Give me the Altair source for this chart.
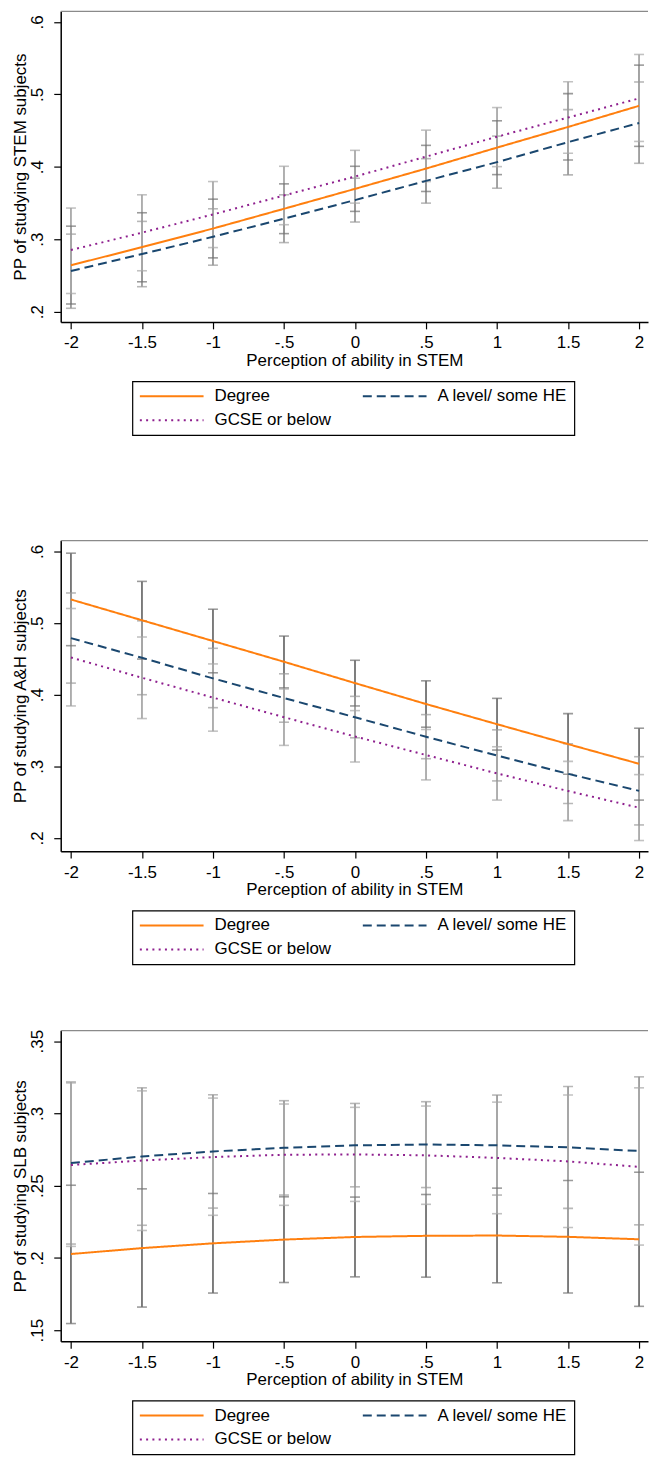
import altair as alt
import pandas as pd

# ---------------- data ----------------
x_vals = [-2, -1.5, -1, -0.5, 0, 0.5, 1, 1.5, 2]
groups = ["Degree", "A level/ some HE", "GCSE or below"]
x_ticks = [-2, -1.5, -1, -0.5, 0, 0.5, 1, 1.5, 2]

# Panel 1: STEM
stem_deg_mid = [0.264, 0.289, 0.3147, 0.342, 0.3695, 0.3975, 0.4265, 0.455, 0.4842]
stem_deg_lo = [0.2105, 0.2412, 0.2742, 0.3077, 0.3384, 0.3659, 0.3892, 0.4094, 0.4282]
stem_deg_hi = [0.318, 0.3365, 0.3553, 0.3764, 0.4007, 0.4296, 0.4635, 0.501, 0.5404]
stem_alv_mid = [0.256, 0.2795, 0.3033, 0.3283, 0.354, 0.3805, 0.4064, 0.434, 0.4605]
stem_alv_lo = [0.2046, 0.2344, 0.2641, 0.2953, 0.3237, 0.3498, 0.3704, 0.3888, 0.4048]
stem_alv_hi = [0.307, 0.3246, 0.342, 0.3613, 0.3842, 0.4112, 0.4424, 0.479, 0.5171]
stem_gcse_mid = [0.285, 0.309, 0.3342, 0.3604, 0.3865, 0.414, 0.4415, 0.468, 0.4945]
stem_gcse_lo = [0.225, 0.2564, 0.2884, 0.32, 0.3498, 0.3796, 0.4002, 0.4186, 0.435]
stem_gcse_hi = [0.343, 0.3613, 0.3796, 0.4007, 0.4227, 0.4506, 0.4818, 0.5175, 0.5551]

# Panel 2: A&H
ah_deg_mid = [0.533, 0.504, 0.475, 0.446, 0.4162, 0.387, 0.3588, 0.331, 0.3035]
ah_deg_lo = [0.4685, 0.4498, 0.4306, 0.4095, 0.3843, 0.3546, 0.3227, 0.2889, 0.2528]
ah_deg_hi = [0.5977, 0.5583, 0.5194, 0.4819, 0.4481, 0.4194, 0.3949, 0.3736, 0.3532]
ah_alv_mid = [0.479, 0.4516, 0.4228, 0.3954, 0.3685, 0.3413, 0.315, 0.2895, 0.2657]
ah_alv_lo = [0.4162, 0.4, 0.3819, 0.3616, 0.3398, 0.3106, 0.2796, 0.2481, 0.2181]
ah_alv_hi = [0.5421, 0.5032, 0.4648, 0.4292, 0.3977, 0.3722, 0.3509, 0.3315, 0.3134]
ah_gcse_mid = [0.452, 0.4237, 0.396, 0.3686, 0.3416, 0.3158, 0.29, 0.2655, 0.2422]
ah_gcse_lo = [0.3843, 0.3667, 0.3491, 0.3292, 0.306, 0.281, 0.2528, 0.2241, 0.1963]
ah_gcse_hi = [0.5204, 0.4806, 0.443, 0.408, 0.3778, 0.3514, 0.3273, 0.3069, 0.2884]

# Panel 3: SLB
slb_deg_mid = [0.2027, 0.2068, 0.2101, 0.2127, 0.2145, 0.2153, 0.2155, 0.2146, 0.2129]
slb_deg_lo = [0.1546, 0.166, 0.1757, 0.183, 0.1869, 0.1867, 0.1828, 0.1757, 0.1665]
slb_deg_hi = [0.2503, 0.2478, 0.2446, 0.2423, 0.2421, 0.2439, 0.2483, 0.2536, 0.2593]
slb_alv_mid = [0.2657, 0.2702, 0.2737, 0.2762, 0.2779, 0.2785, 0.2779, 0.2765, 0.274]
slb_alv_lo = [0.2096, 0.2226, 0.2345, 0.2435, 0.2492, 0.2487, 0.2435, 0.2343, 0.2229]
slb_alv_hi = [0.3218, 0.3177, 0.3129, 0.3088, 0.3069, 0.3081, 0.3127, 0.3186, 0.3253]
slb_gcse_mid = [0.2643, 0.2674, 0.2698, 0.2714, 0.2716, 0.271, 0.2692, 0.2668, 0.263]
slb_gcse_lo = [0.208, 0.219, 0.2295, 0.2364, 0.2391, 0.2371, 0.2306, 0.2211, 0.2089]
slb_gcse_hi = [0.3211, 0.3156, 0.3106, 0.3065, 0.3042, 0.3051, 0.3078, 0.3127, 0.3177]

y_ticks_12 = [0.2, 0.3, 0.4, 0.5, 0.6]
y_ticks_3 = [0.15, 0.2, 0.25, 0.3, 0.35]

# ---------------- style ----------------
FONT = "Liberation Sans"
W = 590
H = 312
line_colors = ["#ff7f0e", "#1a476f", "#8e1f8e"]
bar_grays = ["#707070", "#9a9a9a", "#a8a8a8"]
dashes = [[1, 0], [9, 5], [2, 4.3]]
X_DOMAIN = [-2.072, 2.063]
LBL = "replace(replace(datum.label, '0.', '.'), '\u2212', '-')"


def long_df(series):
    rows = []
    for g, (mid, lo, hi) in zip(groups, series):
        for x, m, l, h in zip(x_vals, mid, lo, hi):
            rows.append({"x": x, "group": g, "mid": m, "lo": l, "hi": h})
    return pd.DataFrame(rows)


def panel(series, y_domain, y_ticks, y_title):
    df = long_df(series)
    base = alt.Chart(df)
    xenc = alt.X(
        "x:Q",
        scale=alt.Scale(domain=X_DOMAIN, nice=False, zero=False),
        axis=alt.Axis(values=x_ticks, title="Perception of ability in STEM",
                      format="~g", labelExpr=LBL),
    )
    yscale = alt.Scale(domain=y_domain, nice=False, zero=False)
    yaxis = alt.Axis(values=y_ticks, title=y_title, format="~g", labelExpr=LBL)
    gray_scale = alt.Scale(domain=groups, range=bar_grays)

    bars = base.mark_rule(strokeWidth=1.8).encode(
        x=xenc,
        y=alt.Y("lo:Q", scale=yscale, axis=yaxis),
        y2="hi:Q",
        stroke=alt.Stroke("group:N", scale=gray_scale, legend=None),
    )
    cap_lo = base.mark_tick(orient="horizontal", size=10, thickness=1.6).encode(
        x=xenc, y=alt.Y("lo:Q", scale=yscale, axis=yaxis),
        fill=alt.Fill("group:N", scale=gray_scale, legend=None),
    )
    cap_hi = base.mark_tick(orient="horizontal", size=10, thickness=1.6).encode(
        x=xenc, y=alt.Y("hi:Q", scale=yscale, axis=yaxis),
        fill=alt.Fill("group:N", scale=gray_scale, legend=None),
    )
    lines = base.mark_line(strokeWidth=2).encode(
        x=xenc,
        y=alt.Y("mid:Q", scale=yscale, axis=yaxis),
        color=alt.Color("group:N", scale=alt.Scale(domain=groups, range=line_colors),
                        legend=alt.Legend(title=None)),
        strokeDash=alt.StrokeDash("group:N", scale=alt.Scale(domain=groups, range=dashes),
                                  legend=alt.Legend(title=None)),
    )
    frame_top = alt.Chart(pd.DataFrame({"k": [0]})).mark_rule(
        color="#8a8a8a", strokeWidth=1.2
    ).encode(x=alt.value(0), x2=alt.value(W), y=alt.value(0))

    return alt.layer(bars, cap_lo, cap_hi, lines, frame_top).properties(width=W, height=H)


p1 = panel(
    [(stem_deg_mid, stem_deg_lo, stem_deg_hi),
     (stem_alv_mid, stem_alv_lo, stem_alv_hi),
     (stem_gcse_mid, stem_gcse_lo, stem_gcse_hi)],
    [0.1858, 0.6147], y_ticks_12, "PP of studying STEM subjects")
p2 = panel(
    [(ah_deg_mid, ah_deg_lo, ah_deg_hi),
     (ah_alv_mid, ah_alv_lo, ah_alv_hi),
     (ah_gcse_mid, ah_gcse_lo, ah_gcse_hi)],
    [0.1815, 0.6153], y_ticks_12, "PP of studying A&H subjects")
p3 = panel(
    [(slb_deg_mid, slb_deg_lo, slb_deg_hi),
     (slb_alv_mid, slb_alv_lo, slb_alv_hi),
     (slb_gcse_mid, slb_gcse_lo, slb_gcse_hi)],
    [0.1424, 0.3573], y_ticks_3, "PP of studying SLB subjects")

top = alt.vconcat(p1, p2, spacing=103.7).resolve_scale(
    color="independent", strokeDash="independent")
chart = alt.vconcat(top, p3, spacing=64).resolve_scale(
    color="independent", strokeDash="independent")

chart = chart.properties(
    padding={"left": 12, "top": 7, "right": 0, "bottom": 0},
    background="white",
).configure_view(stroke=None).configure_axis(
    labelFont=FONT, titleFont=FONT, labelFontSize=17, titleFontSize=17,
    titleFontWeight="normal", labelColor="black", titleColor="black",
    domainColor="black", domainWidth=1.5, tickColor="black", tickWidth=1.2,
    tickSize=7, grid=False, labelFlush=False, labelOverlap=False, labelBound=False,
).configure_axisX(
    labelPadding=6, titlePadding=2,
).configure_axisY(
    labelAngle=270, labelAlign="center", labelBaseline="bottom",
    labelPadding=7, titlePadding=-1,
).configure_legend(
    orient="none", legendX=72, legendY=371.7, columns=2, direction="horizontal",
    strokeColor="black", strokeWidth=1.2, padding=6.5,
    labelFont=FONT, labelFontSize=17, labelColor="black",
    symbolType="stroke", symbolSize=4096, symbolStrokeWidth=2,
    clipHeight=17, labelOffset=10, columnPadding=30, rowPadding=6,
)

chart.save("out.html", embed_options={"renderer": "svg", "actions": False})
